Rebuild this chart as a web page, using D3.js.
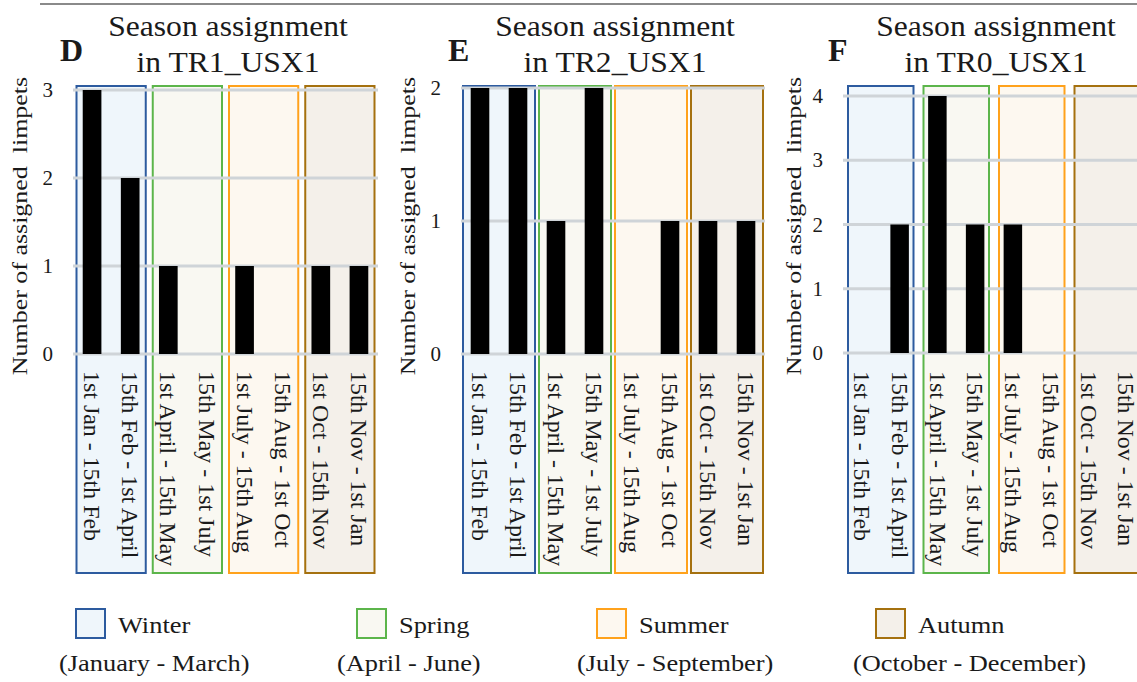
<!DOCTYPE html>
<html>
<head>
<meta charset="utf-8">
<script src="https://cdn.jsdelivr.net/npm/d3@7"></script>
<style>
  html, body { margin: 0; padding: 0; background: #fff; }
  svg { display: block; }
  text { font-family: "Liberation Serif", "Times New Roman", serif; fill: #1a1a1a; white-space: pre; }
</style>
</head>
<body>
<svg id="chart" width="1137" height="682"></svg>
<script>
// Fortnight-based periods along the x axis
const periods = [
  "1st Jan - 15th Feb", "15th Feb - 1st April",
  "1st April - 15th May", "15th May - 1st July",
  "1st July - 15th Aug", "15th Aug - 1st Oct",
  "1st Oct - 15th Nov", "15th Nov - 1st Jan"
];

// Seasons, each spanning two consecutive periods
const seasons = ["Winter", "Spring", "Summer", "Autumn"];
const seasonMonths = ["(January - March)", "(April - June)", "(July - September)", "(October - December)"];

// Number of limpets assigned to each period, per transect
const countsTR1 = [3, 2, 1, 0, 1, 0, 1, 1];
const countsTR2 = [2, 2, 1, 2, 0, 1, 1, 1];
const countsTR0 = [0, 2, 4, 2, 2, 0, 0, 0];

// Y tick values per transect
const ticksTR1 = [0, 1, 2, 3];
const ticksTR2 = [0, 1, 2];
const ticksTR0 = [0, 1, 2, 3, 4];

// Colours per season
const seasonStroke = ["#2d5b9f", "#5cb54b", "#ffa21c", "#a5710f"];
const seasonFill   = ["#eff6fb", "#f9f8f2", "#fdf8f0", "#f4f0ea"];

const panels = [
  { letter: "D", name: "TR1_USX1", counts: countsTR1, ticks: ticksTR1,
    x0: 73, x1: 378, yBase: 354, yTop: 90, letterX: 60, titleCx: 228, yTitleX: 20, inset: 3.5 },
  { letter: "E", name: "TR2_USX1", counts: countsTR2, ticks: ticksTR2,
    x0: 461, x1: 765, yBase: 354, yTop: 88, letterX: 448, titleCx: 615, yTitleX: 408, inset: 2 },
  { letter: "F", name: "TR0_USX1", counts: countsTR0, ticks: ticksTR0,
    x0: 843, x1: 1145, yBase: 353, yTop: 96, letterX: 828, titleCx: 996, yTitleX: 794, inset: 5 }
];

const svg = d3.select("#chart");

// thin rule across the top
svg.append("line")
  .attr("x1", 40).attr("x2", 1137).attr("y1", 4).attr("y2", 4)
  .attr("stroke", "#8a8a8a").attr("stroke-width", 2);

const boxTop = 86, boxBottom = 573;

panels.forEach(p => {
  const g = svg.append("g");
  const x = d3.scaleBand().domain(periods).range([p.x0, p.x1]).padding(0);
  const bw = x.bandwidth();
  const y = d3.scaleLinear().domain([0, d3.max(p.ticks)]).range([p.yBase, p.yTop]);

  // season boxes (each covers two periods)
  seasons.forEach((s, i) => {
    const left = x(periods[2 * i]) + p.inset;
    g.append("rect")
      .attr("x", left).attr("y", boxTop)
      .attr("width", 2 * bw - 2 * p.inset).attr("height", boxBottom - boxTop)
      .attr("fill", seasonFill[i]).attr("stroke", seasonStroke[i]).attr("stroke-width", 2);
  });

  // horizontal gridlines
  g.selectAll(".grid").data(p.ticks).enter().append("line")
    .attr("x1", p.x0).attr("x2", p.x1)
    .attr("y1", d => y(d)).attr("y2", d => y(d))
    .attr("stroke", "#cfd4d8").attr("stroke-width", 3);

  // bars
  const barW = bw * 0.49;
  g.selectAll(".bar").data(p.counts).enter().append("rect")
    .attr("x", (d, i) => x(periods[i]) + bw / 2 - barW / 2)
    .attr("y", d => y(d))
    .attr("width", barW)
    .attr("height", d => y(0) - y(d))
    .attr("fill", "#000");

  // y axis labels
  const yAxis = d3.axisLeft(y).tickValues(p.ticks).tickFormat(d3.format("d")).tickSize(0).tickPadding(0);
  const ay = g.append("g").attr("transform", `translate(${p.x0 - 20},0)`).call(yAxis);
  ay.select(".domain").remove();
  ay.selectAll("text").attr("font-size", 21).attr("font-family", "Liberation Serif").attr("fill", "#1a1a1a");

  // rotated period labels, reading top to bottom
  g.selectAll(".xl").data(periods).enter().append("text")
    .attr("transform", d => `translate(${x(d) + bw / 2},371) rotate(90) scale(1.04,1)`)
    .attr("dy", "0.34em")
    .attr("font-size", 23)
    .text(d => d);

  // y axis title
  g.append("text")
    .attr("transform", `translate(${p.yTitleX},226) rotate(-90) scale(1.18,1)`)
    .attr("text-anchor", "middle").attr("dy", "0.34em")
    .attr("font-size", 22)
    .text("Number of assigned  limpets");

  // panel title
  g.append("text")
    .attr("transform", `translate(${p.titleCx},36) scale(1.09,1)`)
    .attr("text-anchor", "middle").attr("font-size", 29)
    .text("Season assignment");
  g.append("text")
    .attr("transform", `translate(${p.titleCx},72) scale(1.09,1)`)
    .attr("text-anchor", "middle").attr("font-size", 29)
    .text("in " + p.name);

  // panel letter
  g.append("text")
    .attr("x", p.letterX).attr("y", 61)
    .attr("font-size", 32).attr("font-weight", "bold").attr("fill", "#000")
    .text(p.letter);
});

// legend
const legendSquareX = [76, 357, 597, 876];
const legendSubX = [59, 337, 577, 853];
const lg = svg.append("g");
seasons.forEach((s, i) => {
  lg.append("rect")
    .attr("x", legendSquareX[i]).attr("y", 609).attr("width", 29).attr("height", 29)
    .attr("fill", seasonFill[i]).attr("stroke", seasonStroke[i]).attr("stroke-width", 2);
  lg.append("text")
    .attr("transform", `translate(${legendSquareX[i] + 42},633) scale(1.1,1)`)
    .attr("font-size", 24).text(s);
  lg.append("text")
    .attr("transform", `translate(${legendSubX[i]},671) scale(1.1,1)`)
    .attr("font-size", 24).text(seasonMonths[i]);
});
</script>
</body>
</html>
